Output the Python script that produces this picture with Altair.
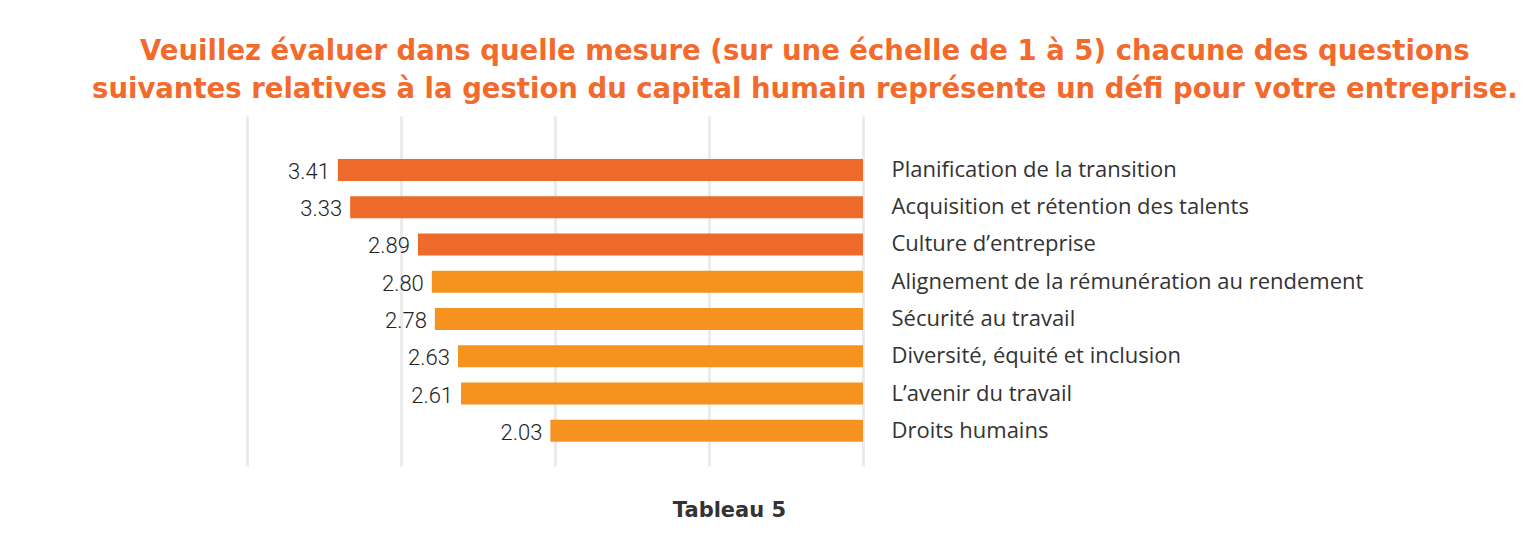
import altair as alt
import pandas as pd

categories = [
    "Planification de la transition",
    "Acquisition et rétention des talents",
    "Culture d’entreprise",
    "Alignement de la rémunération au rendement",
    "Sécurité au travail",
    "Diversité, équité et inclusion",
    "L’avenir du travail",
    "Droits humains",
]
values = [3.41, 3.33, 2.89, 2.80, 2.78, 2.63, 2.61, 2.03]
groups = ["haut", "haut", "haut", "bas", "bas", "bas", "bas", "bas"]
x_ticks = [0, 1, 2, 3, 4]

title_lines = [
    "Veuillez évaluer dans quelle mesure (sur une échelle de 1 à 5) chacune des questions",
    "suivantes relatives à la gestion du capital humain représente un défi pour votre entreprise.",
]
x_title = "Tableau 5"

df = pd.DataFrame({"cat": categories, "val": values, "grp": groups})
df["lbl"] = [f"{v:.2f}" for v in values]

x_scale = alt.Scale(domain=[0, 4], reverse=True, nice=False, zero=True)
y_scale = alt.Scale(domain=categories, paddingInner=0.41, paddingOuter=0.9, align=0.64)

base = alt.Chart(df)

bars = base.mark_bar().encode(
    x=alt.X(
        "val:Q",
        scale=x_scale,
        axis=alt.Axis(
            values=x_ticks,
            labels=False,
            ticks=False,
            domain=False,
            grid=True,
            gridColor="#EBEBEB",
            gridWidth=3,
            title=x_title,
            titleFont="DejaVu Sans",
            titleFontSize=21,
            titleFontWeight="bold",
            titleColor="#333333",
            titlePadding=33,
            titleX=482,
            titleAlign="center",
        ),
    ),
    y=alt.Y(
        "cat:N",
        scale=y_scale,
        sort=categories,
        axis=alt.Axis(
            orient="right",
            title=None,
            ticks=False,
            domain=False,
            labelPadding=28,
            labelFont="Open Sans",
            labelFontSize=22,
            labelColor="#333333",
            labelLimit=800,
        ),
    ),
    color=alt.Color(
        "grp:N",
        scale=alt.Scale(domain=["haut", "bas"], range=["#EE6A2A", "#F6921F"]),
        legend=None,
    ),
)

labels = base.mark_text(
    align="right", baseline="middle", dx=-8, dy=2, font="Roboto", fontSize=22,
    fontWeight=300, color="#222222"
).encode(
    x=alt.X("val:Q", scale=x_scale),
    y=alt.Y("cat:N", scale=y_scale, sort=categories),
    text="lbl:N",
)

chart = (
    alt.layer(bars, labels)
    .properties(
        width=616,
        height=350,
        padding={"left": 84, "top": 29, "right": 0, "bottom": 5},
        title=alt.TitleParams(
            text=title_lines,
            font="DejaVu Sans",
            fontSize=27.5,
            fontWeight="bold",
            color="#F26A2C",
            lineHeight=38,
            anchor="middle",
            frame="bounds",
            offset=13,
        ),
    )
    .configure_view(stroke=None)
)

chart.save("out.html", embed_options={"renderer": "svg", "actions": False})
